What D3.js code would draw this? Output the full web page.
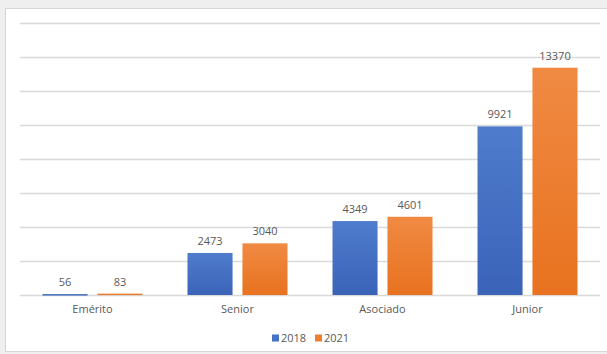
<!DOCTYPE html>
<html>
<head>
<meta charset="utf-8">
<script src="https://cdn.jsdelivr.net/npm/d3@7"></script>
<style>
  body { margin: 0; background: #eeeeee; }
  svg { display: block; font-family: "Open Sans", "Liberation Sans", sans-serif; }
</style>
</head>
<body>
<div id="chart"></div>
<script>
const categories = ['Emérito', 'Senior', 'Asociado', 'Junior'];
const series = ['2018', '2021'];
const values2018 = [56, 2473, 4349, 9921];
const values2021 = [83, 3040, 4601, 13370];
const yTicks = [0, 2000, 4000, 6000, 8000, 10000, 12000, 14000, 16000];

const width = 607;
const height = 354;
const margin = { top: 23, right: 7, bottom: 59, left: 20 };
const colors = { '2018': '#4472c4', '2021': '#ed7d31' };

const data = categories.map((c, i) => ({ cat: c, vals: [values2018[i], values2021[i]] }));

const svg = d3.select('#chart').append('svg')
  .attr('width', width)
  .attr('height', height);

// grey page and white chart panel
svg.append('rect').attr('width', width).attr('height', height).attr('fill', '#efefef');
svg.append('rect')
  .attr('x', 5.5).attr('y', 8.5)
  .attr('width', width).attr('height', 343)
  .attr('fill', '#ffffff')
  .attr('stroke', '#d6d6d6');

const defs = svg.append('defs');
const grad = (id, top, bottom) => {
  const g = defs.append('linearGradient').attr('id', id)
    .attr('x1', 0).attr('y1', 0).attr('x2', 0).attr('y2', 1);
  g.append('stop').attr('offset', '0%').attr('stop-color', top);
  g.append('stop').attr('offset', '100%').attr('stop-color', bottom);
};
grad('g2018', '#4f7ccc', '#3a63b8');
grad('g2021', '#f08a43', '#e8721f');

const x0 = d3.scaleBand()
  .domain(categories)
  .range([margin.left, width - margin.right])
  .padding(0);

const x1 = d3.scaleBand()
  .domain(series)
  .range([22.5, x0.bandwidth() - 22.5])
  .paddingInner(0.18);

const y = d3.scaleLinear()
  .domain([0, 16000])
  .range([height - margin.bottom, margin.top]);

// gridlines
svg.append('g')
  .selectAll('line')
  .data(yTicks)
  .join('line')
  .attr('x1', margin.left)
  .attr('x2', width - margin.right)
  .attr('y1', d => Math.round(y(d)) + 0.5)
  .attr('y2', d => Math.round(y(d)) + 0.5)
  .attr('stroke', '#d9d9d9')
  .attr('stroke-width', 1.5);

const group = svg.append('g')
  .selectAll('g')
  .data(data)
  .join('g')
  .attr('transform', d => `translate(${x0(d.cat)},0)`);

group.selectAll('rect')
  .data(d => d.vals.map((v, i) => ({ s: series[i], v })))
  .join('rect')
  .attr('x', d => x1(d.s))
  .attr('y', d => y(d.v))
  .attr('width', x1.bandwidth())
  .attr('height', d => Math.max(1.5, y(0) - y(d.v)))
  .attr('fill', d => `url(#g${d.s})`);

group.selectAll('text')
  .data(d => d.vals.map((v, i) => ({ s: series[i], v })))
  .join('text')
  .attr('x', d => x1(d.s) + x1.bandwidth() / 2)
  .attr('y', d => y(d.v) - 8)
  .attr('text-anchor', 'middle')
  .attr('font-size', 11)
  .attr('fill', '#595959')
  .text(d => d.v);

// category axis
const xAxis = svg.append('g')
  .attr('transform', `translate(0,${height - margin.bottom})`)
  .call(d3.axisBottom(x0).tickSize(0).tickPadding(10));
xAxis.select('.domain').remove();
xAxis.selectAll('text')
  .attr('font-size', 11)
  .attr('font-family', '"Open Sans", "Liberation Sans", sans-serif')
  .attr('fill', '#595959');

// legend
const legend = svg.append('g')
  .selectAll('g')
  .data(series)
  .join('g')
  .attr('transform', (d, i) => `translate(${272 + i * 43},338)`);
legend.append('rect')
  .attr('x', 0).attr('y', -3.5)
  .attr('width', 7).attr('height', 7)
  .attr('fill', d => colors[d]);
legend.append('text')
  .attr('x', 9).attr('y', 4)
  .attr('font-size', 11)
  .attr('fill', '#595959')
  .text(d => d);
</script>
</body>
</html>
